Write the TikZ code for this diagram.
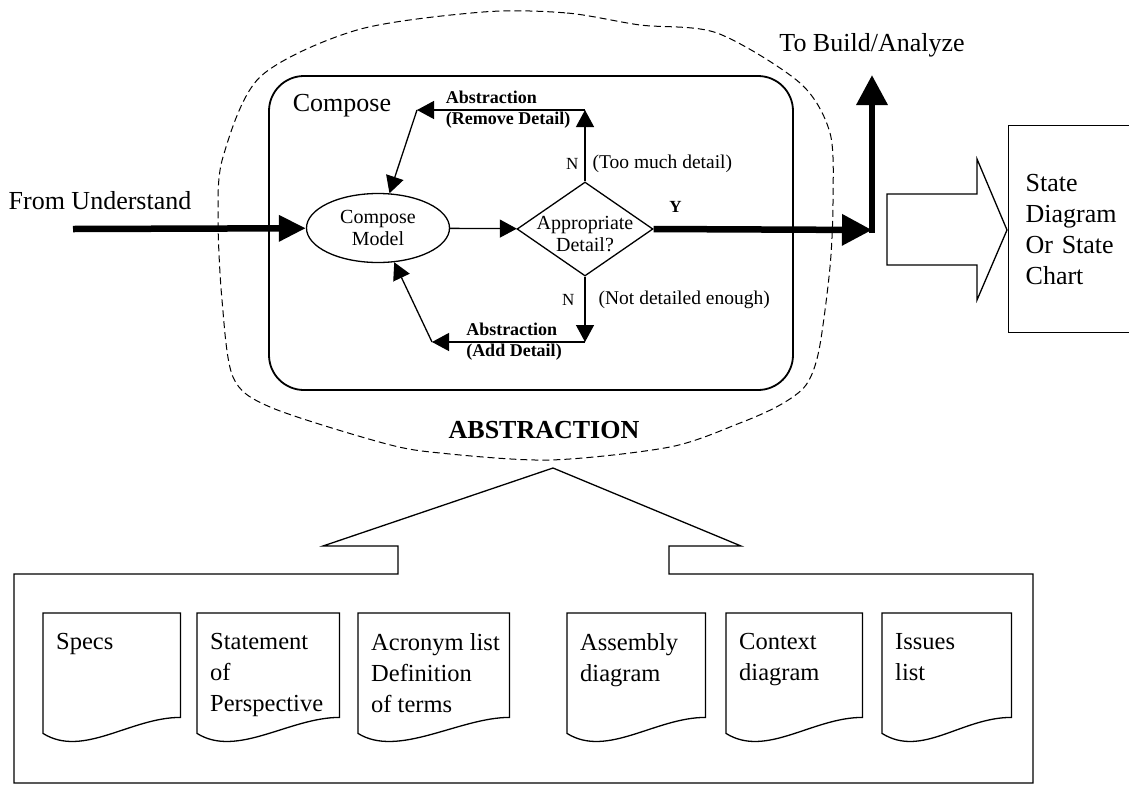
\documentclass[tikz,border=0pt]{standalone}
\usepackage{fontspec}
\setmainfont{Liberation Serif}
\usetikzlibrary{arrows.meta,shapes.geometric}
\newcommand{\documento}[4]{
	\node [hoja, minimum width=#3pt] (#1) at (#2,613) {};
	\node [textohoja] at (#1.north west) {#4};
	\draw [linea] (#1.north west) -- (#1.north east) -- (#1.south east) .. controls +(-50,0) and +(40,25) .. ([yshift=-16pt]#1.south west) -- cycle;
}

\begin{document}
\begin{tikzpicture}[x=1pt, y=-1pt,
	linea/.style={line width=1.3pt},
	flecha/.style={line width=1.3pt, -{Triangle[length=17pt,width=18pt]}},
	gruesa/.style={line width=6.5pt, -{Triangle[length=30pt,width=30pt]}},
	grande/.style={font=\fontsize{26}{31}\selectfont},
	chica/.style={font=\fontsize{20}{22}\selectfont},
	negrita/.style={font=\fontsize{18}{21}\selectfont\bfseries, inner sep=3pt},
	nota/.style={font=\fontsize{19.5}{22}\selectfont, inner sep=2pt},
	hoja/.style={anchor=north west, minimum height=104pt, inner sep=0pt},
	textohoja/.style={anchor=north west, align=left, inner xsep=13pt, inner ysep=20pt, font=\fontsize{24.5}{31}\selectfont}]
	\useasboundingbox (0,0) rectangle (1129,785);
% ABSTRACCION
	\draw [line width=1pt, dash pattern=on 7pt off 4pt] plot [smooth cycle] coordinates {(483,12) (567,13) (640,25) (717,33) (800,83) (830,133) (833,200) (830,267) (819,350) (806,385) (780,405) (740,423) (670,447) (550,460) (440,453) (383,443) (270,407) (233,377) (222,300) (218,217) (223,157) (260,77) (357,30)};
	\node [grande, font=\fontsize{26}{31}\selectfont\bfseries] (abstraction) at (544,430) {ABSTRACTION};
	\node [draw, line width=1.8pt, rounded corners=35pt, minimum width=524pt, minimum height=314pt, inner sep=0pt] (compose) at (531,233) {};
	\node [grande] (composetitle) at (342,106) {Compose};
	\node [draw, linea, ellipse, minimum width=143pt, minimum height=69pt, inner sep=0pt, align=center, chica] (model) at (378,228) {Compose\\Model};
	\node [draw, linea, diamond, minimum width=136pt, minimum height=94pt, inner sep=0pt] (detail) at (585,229) {};
	\node [chica, align=center, yshift=-5pt] (detailtext) at (detail) {Appropriate\\Detail?};
	\coordinate (remove) at (585,110);
	\coordinate (removeleft) at (417,110);
	\coordinate (add) at (585,342);
	\coordinate (addleft) at (432,342);
	\draw [flecha] (model) -- (detail);
	\draw [flecha] (detail.north) -- node [nota, pos=0.24, left=4pt, font=\fontsize{17}{20}\selectfont] {N} node [nota, pos=0.24, right=5pt] {(Too much detail)} (remove);
	\draw [flecha] (remove) -- node [negrita, pos=0.85, anchor=west, align=left] {Abstraction\\(Remove Detail)} (removeleft);
	\draw [flecha] (removeleft) -- (model);
	\draw [flecha] (detail.south) -- node [nota, pos=0.36, left=8pt, font=\fontsize{17}{20}\selectfont] {N} node [nota, pos=0.36, right=11pt] {(Not detailed enough)} (add);
	\draw [flecha] (add) -- node [negrita, pos=0.8, anchor=west, align=left] {Abstraction\\(Add Detail)} (addleft);
	\draw [flecha] (addleft) -- (model);
% ENTRADA Y SALIDA
	\coordinate (understand) at (73,229);
	\node [grande] (from) at (100,201) {From Understand};
	\draw [gruesa, -{Triangle[length=27pt,width=25pt]}] (understand) -- (model);
	\coordinate (corner) at (872,230);
	\coordinate (build) at (872,75);
	\draw [gruesa] (detail.east) -- node [pos=0.1, above=11pt, inner sep=2pt, font=\fontsize{17}{20}\selectfont\bfseries] {Y} (corner);
	\draw [gruesa] ([yshift=-3pt]corner) -- (build);
	\node [grande] (tobuild) at (872,45) {To Build/Analyze};
	\draw [linea] (887,194) -- (977,194) -- (977,159) -- (1007,230) -- (977,300) -- (977,265) -- (887,265) -- cycle;
	\node [draw, linea, grande, anchor=north west, minimum height=207pt, text width=110pt, inner xsep=17pt, align=left] (state) at (1008,125) {State\\Diagram\\Or State\\Chart};
% DOCUMENTOS
	\draw [linea] (398,574) -- (398,546) -- (323,546) -- (553,468) -- (741,546) -- (669,546) -- (669,574) -- (1033,574) -- (1033,783) -- (14,783) -- (14,574) -- cycle;
	\documento{specs}{43}{137}{Specs}
	\documento{statement}{197}{142}{Statement\\of\\Perspective}
	\documento{acronyms}{358}{151}{Acronym list\\Definition\\of terms}
	\documento{assembly}{567}{138}{Assembly\\diagram}
	\documento{context}{726}{136}{Context\\diagram}
	\documento{issues}{882}{129}{Issues\\list}
\end{tikzpicture}
\end{document}
